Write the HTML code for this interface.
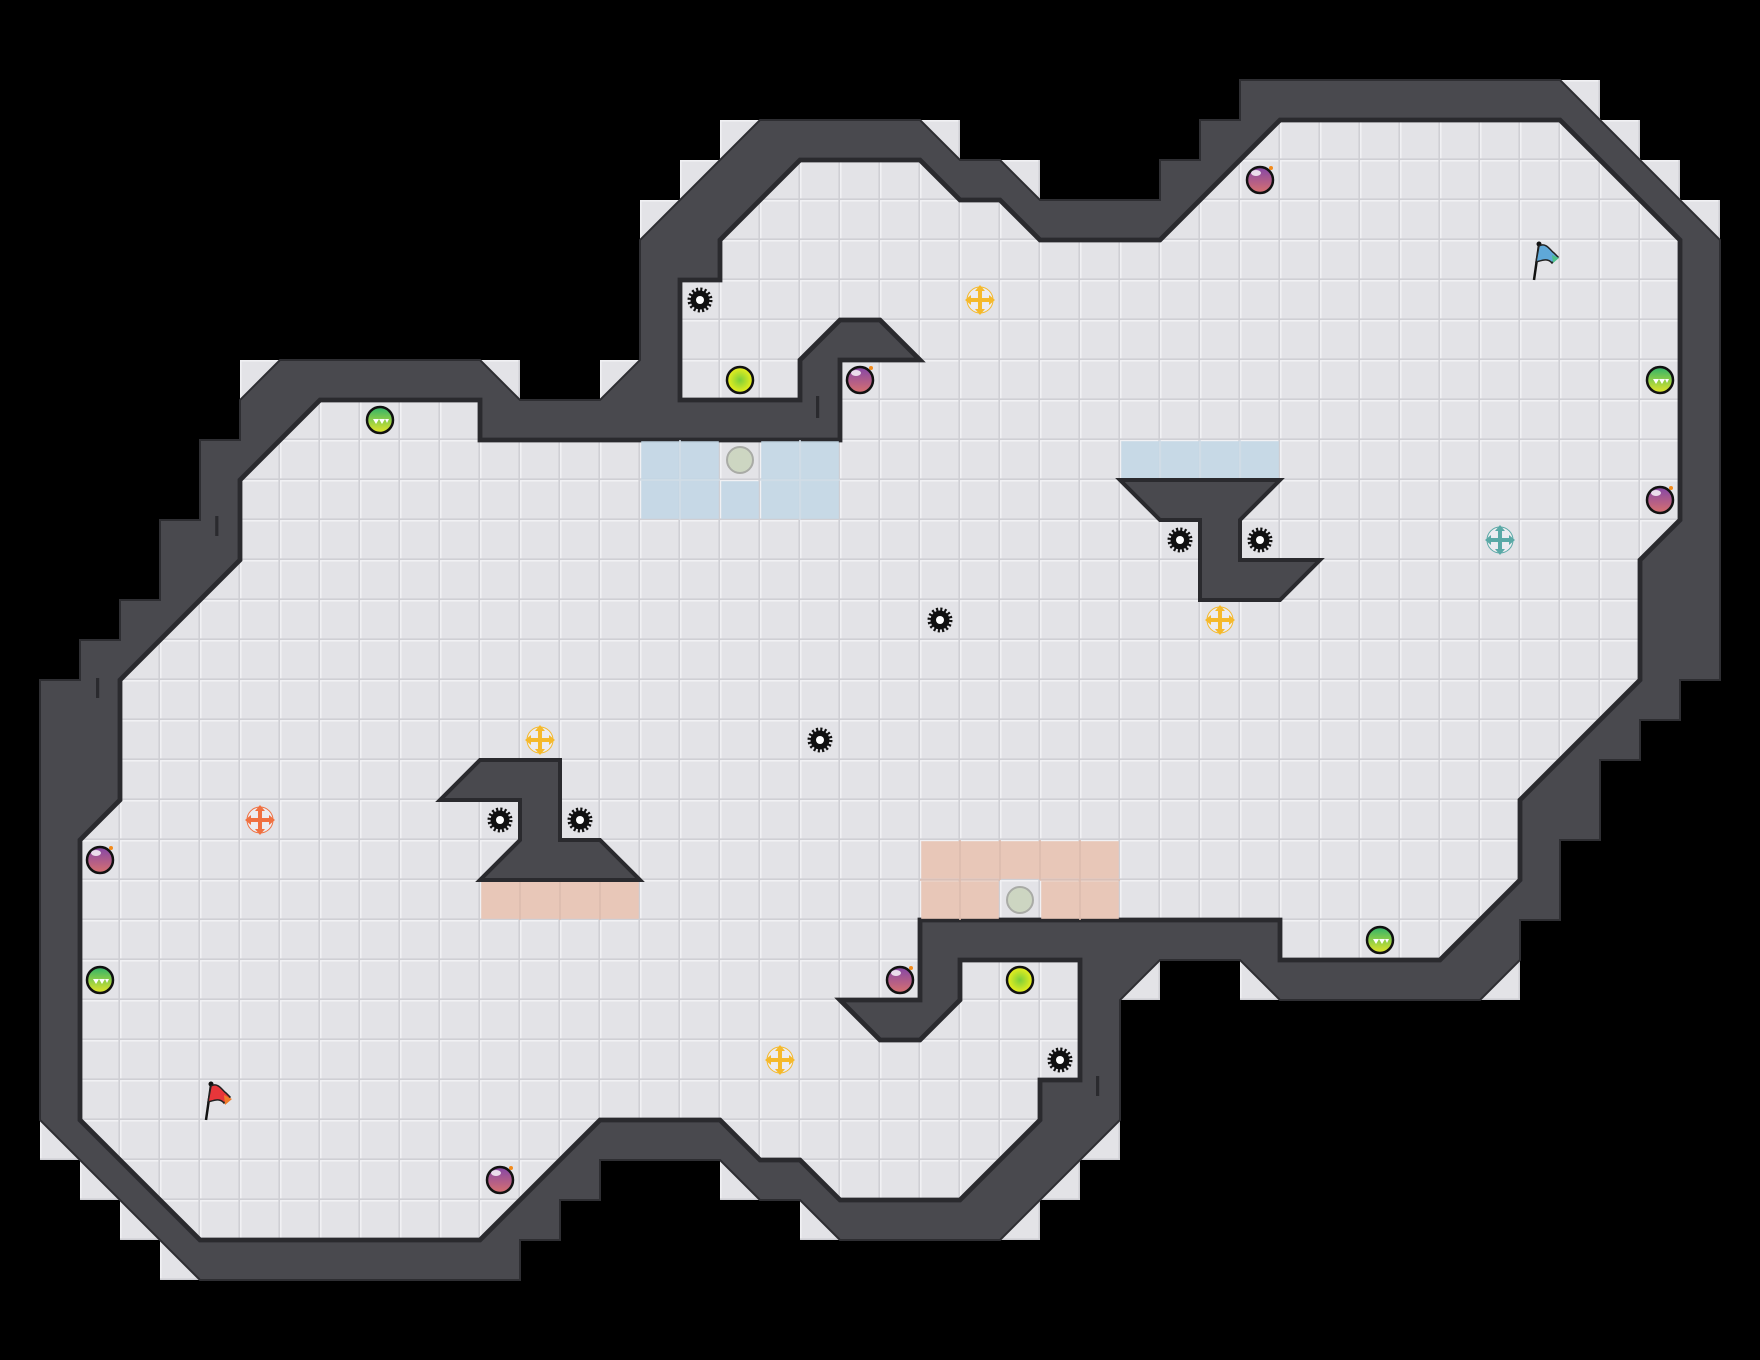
<!DOCTYPE html>
<html><head><meta charset="utf-8"><style>html,body{margin:0;padding:0;background:#000;}svg{display:block}</style></head>
<body>
<svg width="1760" height="1360" viewBox="0 0 1760 1360" xmlns="http://www.w3.org/2000/svg">
<defs>
<pattern id="tile" patternUnits="userSpaceOnUse" width="1" height="1">
<rect width="1" height="1" fill="#e3e3e7"/>
<rect x="0" y="0" width="1" height="0.04" fill="#f1f1f4"/>
<rect x="0" y="0" width="0.04" height="1" fill="#f1f1f4"/>
<rect x="0.96" y="0" width="0.04" height="1" fill="#cfcfd4"/>
<rect x="0" y="0.96" width="1" height="0.04" fill="#cfcfd4"/>
</pattern>
<linearGradient id="gb" x1="0" y1="0" x2="0" y2="1"><stop offset="0" stop-color="#8446a8"/><stop offset="1" stop-color="#d8706e"/></linearGradient>
<linearGradient id="gg" x1="0" y1="0" x2="0" y2="1"><stop offset="0" stop-color="#2fb36a"/><stop offset="1" stop-color="#e6e628"/></linearGradient>
<radialGradient id="gl"><stop offset="0" stop-color="#7ccf3a"/><stop offset="1" stop-color="#eef01c"/></radialGradient>
<g id="bomb"><circle r="13" fill="url(#gb)" stroke="#111" stroke-width="2.5"/><ellipse cx="-4" cy="-7" rx="5" ry="3" fill="#fff" opacity="0.8"/><circle cx="11" cy="-12" r="2" fill="#f28a1a"/></g>
<g id="green"><circle r="13" fill="url(#gg)" stroke="#111" stroke-width="2.5"/><path d="M-7,-1 l3,5 l3,-5 z M-1,-1 l3,5 l3,-5 z M5,-1 l2,4 l2,-4 z" fill="#fff"/></g>
<g id="lime"><circle r="13" fill="url(#gl)" stroke="#111" stroke-width="2.5"/></g>
<g id="ghost"><circle r="13" fill="#cdd6c2" stroke="#a9aba6" stroke-width="2"/></g>
<g id="gear"><circle r="9.5" fill="#111"/><circle r="10.5" fill="none" stroke="#111" stroke-width="4" stroke-dasharray="2.06 2.06"/><circle r="4" fill="#fff"/></g>
<g id="arr"><circle r="13" fill="#ececf0"/><path d="M0,-9 V9 M-9,0 H9" stroke-width="4"/><path d="M0,-15 l-5,6 h10 z M0,15 l-5,-6 h10 z M-15,0 l6,-5 v10 z M15,0 l-6,-5 v10 z" stroke="none"/></g>
</defs>
<rect width="1760" height="1360" fill="#000"/>
<g transform="scale(40)">
<g fill="url(#tile)">
<rect x="6" y="9" width="1" height="1"/><rect x="12" y="9" width="1" height="1"/><rect x="15" y="9" width="1" height="1"/>
<rect x="16" y="5" width="1" height="1"/><rect x="17" y="4" width="1" height="1"/><rect x="18" y="3" width="1" height="1"/>
<rect x="23" y="3" width="1" height="1"/><rect x="25" y="4" width="1" height="1"/>
<rect x="39" y="2" width="1" height="1"/><rect x="40" y="3" width="1" height="1"/><rect x="41" y="4" width="1" height="1"/><rect x="42" y="5" width="1" height="1"/>
<rect x="37" y="24" width="1" height="1"/><rect x="31" y="24" width="1" height="1"/><rect x="28" y="24" width="1" height="1"/>
<rect x="27" y="28" width="1" height="1"/><rect x="26" y="29" width="1" height="1"/><rect x="25" y="30" width="1" height="1"/>
<rect x="20" y="30" width="1" height="1"/><rect x="18" y="29" width="1" height="1"/>
<rect x="1" y="28" width="1" height="1"/><rect x="2" y="29" width="1" height="1"/><rect x="3" y="30" width="1" height="1"/><rect x="4" y="31" width="1" height="1"/>
</g>
<polygon fill="#49494e" stroke="#2e2e32" stroke-width="0.05" stroke-linejoin="miter" points="7,9 12,9 13,10 15,10 16,9 16,6 19,3 23,3 24,4 25,4 26,5 29,5 29,4 30,4 30,3 31,3 31,2 39,2 43,6 43,17 42,17 42,18 41,18 41,19 40,19 40,21 39,21 39,23 38,23 38,24 37,25 32,25 31,24 29,24 28,25 28,28 25,31 21,31 20,30 19,30 18,29 15,29 15,30 14,30 14,31 13,31 13,32 5,32 1,28 1,17 2,17 2,16 3,16 3,15 4,15 4,13 5,13 5,11 6,11 6,10"/>
<polygon fill="url(#tile)" stroke="#2a2a2e" stroke-width="0.12" stroke-linejoin="miter" points="8,10 12,10 12,11 21,11 21,9 23,9 22,8 21,8 20,9 20,10 17,10 17,7 18,7 18,6 20,4 23,4 24,5 25,5 26,6 29,6 32,3 39,3 42,6 42,13 41,14 41,17 38,20 38,22 36,24 32,24 32,23 23,23 23,25 21,25 22,26 23,26 24,25 24,24 27,24 27,27 26,27 26,28 24,30 21,30 20,29 19,29 18,28 15,28 12,31 5,31 2,28 2,21 3,20 3,17 6,14 6,12"/>
<g fill="#c3d7e6" opacity="0.9">
<rect x="16.03" y="11.03" width="1.94" height="1.94"/><rect x="18.03" y="12.03" width="0.94" height="0.94"/><rect x="19.03" y="11.03" width="1.94" height="1.94"/>
<rect x="28.03" y="11.03" width="3.94" height="0.94"/>
</g>
<g stroke="#d2dde6" stroke-width="0.04">
<path d="M17,11V13 M20,11V13 M16,12H18 M19,12H21 M29,11V12 M30,11V12 M31,11V12"/>
</g>
<g fill="#e8c7b8">
<rect x="12.03" y="22.03" width="3.94" height="0.94"/>
<rect x="23.03" y="21.03" width="4.94" height="0.94"/>
<rect x="23.03" y="22.03" width="1.94" height="0.94"/><rect x="26.03" y="22.03" width="1.94" height="0.94"/>
</g>
<g stroke="#dcbcae" stroke-width="0.04">
<path d="M13,22V23 M14,22V23 M15,22V23 M24,21V23 M25,21V22 M26,21V22 M27,21V23 M23,22H25 M26,22H28"/>
</g>
<polygon fill="#49494e" stroke="#2a2a2e" stroke-width="0.1" points="11,20 12,19 14,19 14,21 15,21 16,22 12,22 13,21 13,20"/>
<polygon fill="#49494e" stroke="#2a2a2e" stroke-width="0.1" points="28,12 32,12 31,13 31,14 33,14 32,15 30,15 30,13 29,13"/>
<g fill="#2a2a2e">
<rect x="20.4" y="9.9" width="0.08" height="0.55"/><rect x="5.38" y="12.9" width="0.08" height="0.5"/><rect x="2.4" y="16.95" width="0.08" height="0.5"/>
<rect x="27.4" y="26.9" width="0.08" height="0.5"/>
</g>
</g>
<use href="#bomb" x="1260" y="180"/><use href="#bomb" x="860" y="380"/><use href="#bomb" x="1660" y="500"/>
<use href="#bomb" x="100" y="860"/><use href="#bomb" x="900" y="980"/><use href="#bomb" x="500" y="1180"/>
<use href="#green" x="380" y="420"/><use href="#green" x="1660" y="380"/><use href="#green" x="100" y="980"/><use href="#green" x="1380" y="940"/>
<use href="#lime" x="740" y="380"/><use href="#lime" x="1020" y="980"/>
<use href="#ghost" x="740" y="460"/><use href="#ghost" x="1020" y="900"/>
<use href="#gear" x="700" y="300"/><use href="#gear" x="1180" y="540"/><use href="#gear" x="1260" y="540"/><use href="#gear" x="940" y="620"/>
<use href="#gear" x="820" y="740"/><use href="#gear" x="500" y="820"/><use href="#gear" x="580" y="820"/><use href="#gear" x="1060" y="1060"/>
<g fill="#f5b92a" stroke="#f5b92a">
<use href="#arr" x="980" y="300"/><use href="#arr" x="1220" y="620"/><use href="#arr" x="540" y="740"/><use href="#arr" x="780" y="1060"/>
</g>
<g fill="#f07040" stroke="#f07040"><use href="#arr" x="260" y="820"/></g>
<g fill="#5aa9a6" stroke="#5aa9a6"><use href="#arr" x="1500" y="540"/></g>
<g transform="translate(1540,260)">
<path d="M-6,20 L-1,-15" stroke="#111" stroke-width="2.5"/><circle cx="-1" cy="-16" r="2.5" fill="#111"/>
<path d="M-1,-14 C6,-18 10,-10 14,-7 L18,-3 L12,3 C8,-2 3,0 -4,2 Z" fill="#5fa8d8" stroke="#222" stroke-width="1.5"/>
<path d="M12,-5 L19,-2 L13,3 Z" fill="#4cc08a"/>
</g>
<g transform="translate(212,1100)">
<path d="M-6,20 L-1,-15" stroke="#111" stroke-width="2.5"/><circle cx="-1" cy="-16" r="2.5" fill="#111"/>
<path d="M-1,-14 C6,-18 10,-10 14,-7 L18,-3 L12,3 C8,-2 3,0 -4,2 Z" fill="#e8363a" stroke="#222" stroke-width="1.5"/>
<path d="M12,-5 L20,-1 L13,5 Z" fill="#f07a2a"/>
</g>
</svg>
</body></html>
